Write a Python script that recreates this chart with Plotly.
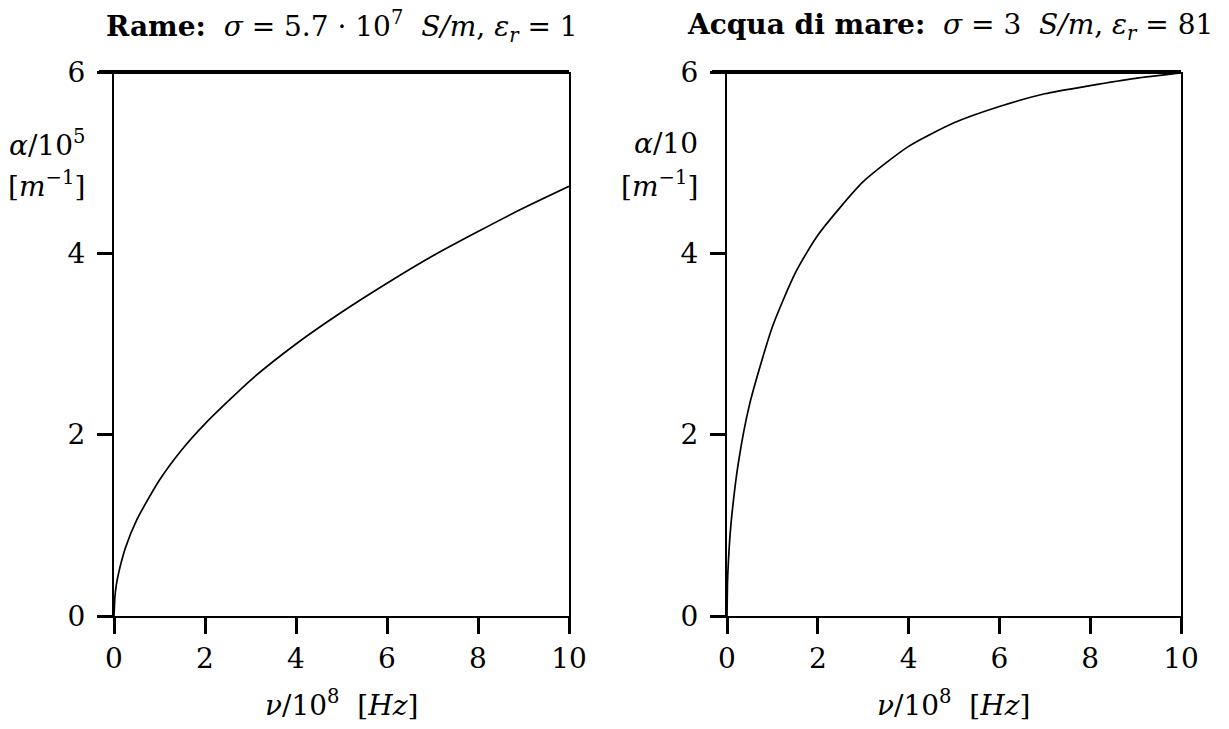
import plotly.graph_objects as go

# Frequency nu / 10^8 Hz
nu_rame = [0, 0.02, 0.05, 0.1, 0.25, 0.5, 1, 1.5, 2, 3, 4, 5, 6, 7, 8, 9, 10]
# alpha / 10^5 [1/m]  (copper)
alpha_rame = [0, 0.21, 0.34, 0.47, 0.75, 1.06, 1.50, 1.84, 2.12, 2.60, 3.00, 3.35, 3.67, 3.97, 4.24, 4.50, 4.74]

nu_mare = [0, 0.01, 0.02, 0.05, 0.1, 0.25, 0.5, 1, 1.5, 2, 3, 4, 5, 6, 7, 8, 9, 10]
# alpha / 10 [1/m]  (sea water)
alpha_mare = [0, 0.35, 0.49, 0.77, 1.08, 1.69, 2.34, 3.19, 3.78, 4.20, 4.79, 5.18, 5.44, 5.62, 5.76, 5.85, 5.93, 5.99]

x_ticks = [0, 2, 4, 6, 8, 10]
y_ticks = [0, 2, 4, 6]

FONT = "DejaVu Serif"
W, H = 1229, 729
SP = "\u00a0"

fig = go.Figure()
fig.add_trace(go.Scatter(x=nu_rame, y=alpha_rame, mode="lines",
                         line=dict(color="black", width=1.7, shape="spline", smoothing=0.6),
                         xaxis="x", yaxis="y", showlegend=False))
fig.add_trace(go.Scatter(x=nu_mare, y=alpha_mare, mode="lines",
                         line=dict(color="black", width=1.7, shape="spline", smoothing=0.6),
                         xaxis="x2", yaxis="y2", showlegend=False))

ydom = [1 - 616 / H, 1 - 72 / H]
xdom1 = [114 / W, 569 / W]
xdom2 = [727 / W, 1181 / W]


def xax(dom, anchor):
    return dict(domain=dom, anchor=anchor, range=[0, 10], tickvals=x_ticks, ticks="outside", ticklen=16,
                tickwidth=2.5, tickcolor="black", showline=True, linecolor="black", linewidth=2.2,
                mirror=False, showgrid=False, zeroline=False, automargin=False,
                tickfont=dict(family=FONT, size=28, color="black"), ticklabelstandoff=0)


def yax(anchor):
    return dict(domain=ydom, anchor=anchor, range=[0, 6], tickvals=y_ticks, ticks="outside", ticklen=15,
                tickwidth=2.5, tickcolor="black", showline=True, linecolor="black", linewidth=2.2,
                mirror=True, showgrid=False, zeroline=False, automargin=False,
                tickfont=dict(family=FONT, size=28, color="black"), ticklabelstandoff=6)


fig.update_layout(
    template="none",
    width=W, height=H, margin=dict(l=0, r=0, t=0, b=0, autoexpand=False),
    paper_bgcolor="white", plot_bgcolor="white",
    xaxis=xax(xdom1, "y"), yaxis=yax("x"),
    xaxis2=xax(xdom2, "y2"), yaxis2=yax("x2"),
)

# thick top frame lines
for xr, yr in [("x domain", "y domain"), ("x2 domain", "y2 domain")]:
    fig.add_shape(type="line", xref=xr, yref=yr, x0=-0.033, x1=1.0, y0=1, y1=1,
                  line=dict(color="black", width=4))

eq = SP + "=" + SP
titles = [
    ("<b>Rame:</b>" + SP * 2 + "<i>σ</i>" + eq + "5.7" + SP + "·" + SP + "10<sup>7</sup>" + SP * 2
     + "<i>S/m</i>," + SP + "<i>ε<sub>r</sub></i>" + eq + "1", sum(xdom1) / 2),
    ("<b>Acqua di mare:</b>" + SP * 2 + "<i>σ</i>" + eq + "3" + SP * 2 + "<i>S/m</i>," + SP
     + "<i>ε<sub>r</sub></i>" + eq + "81", sum(xdom2) / 2 - 4 / W),
]
for t, xc in titles:
    fig.add_annotation(text=t, x=xc, y=1 - 27 / H, xref="paper", yref="paper", showarrow=False,
                       font=dict(family=FONT, size=28, color="black"), xanchor="center", yanchor="middle")

for xc in [sum(xdom1) / 2, sum(xdom2) / 2]:
    fig.add_annotation(text="<i>ν</i>/10<sup>8</sup>" + SP * 2 + "[<i>Hz</i>]", x=xc, y=1 - 703 / H,
                       xref="paper", yref="paper", showarrow=False,
                       font=dict(family=FONT, size=28, color="black"), xanchor="center", yanchor="middle")

ylabels = [("<i>α</i>/10<sup>5</sup>", xdom1[0]), ("<i>α</i>/10", xdom2[0])]
for t, x0 in ylabels:
    fig.add_annotation(text=t, x=x0 - 27 / W, y=1 - 143 / H, xref="paper", yref="paper", showarrow=False,
                       font=dict(family=FONT, size=28, color="black"), xanchor="right", yanchor="middle")
    fig.add_annotation(text="[<i>m</i><sup>−1</sup>]", x=x0 - 27 / W, y=1 - 184 / H, xref="paper",
                       yref="paper", showarrow=False,
                       font=dict(family=FONT, size=28, color="black"), xanchor="right", yanchor="middle")

fig.write_html("out.html")
